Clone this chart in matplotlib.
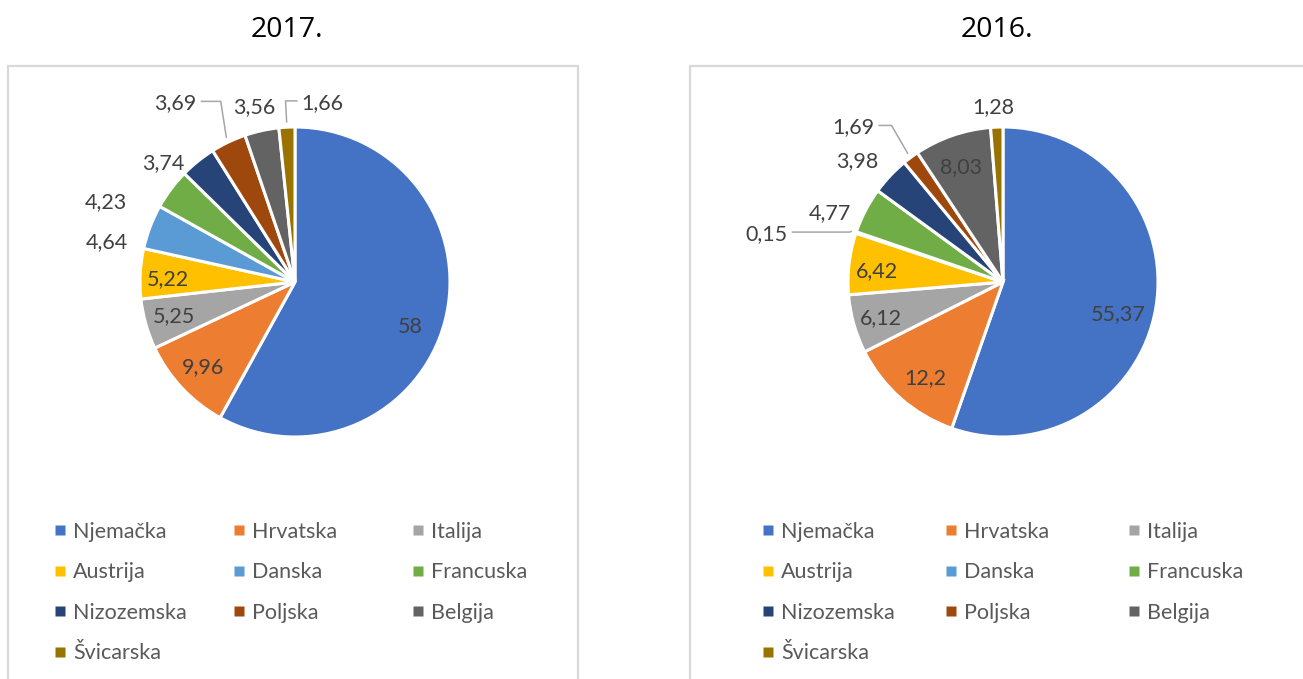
import numpy as np
import matplotlib
matplotlib.use('Agg')
import matplotlib.pyplot as plt
from matplotlib.patches import Rectangle

# --------------------------------------------------
# data
# --------------------------------------------------
countries = ['Njemačka', 'Hrvatska', 'Italija', 'Austrija', 'Danska',
             'Francuska', 'Nizozemska', 'Poljska', 'Belgija', 'Švicarska']
colors = ['#4472C4', '#ED7D31', '#A5A5A5', '#FFC000', '#5B9BD5',
          '#70AD47', '#264478', '#9E480E', '#636363', '#997300']

years = ['2017.', '2016.']
values_2017 = [58, 9.96, 5.25, 5.22, 4.64, 4.23, 3.74, 3.69, 3.56, 1.66]
values_2016 = [55.37, 12.2, 6.12, 6.42, 0.15, 4.77, 3.98, 1.69, 8.03, 1.28]

# label placement style: radius factor and angle nudge (deg) along each wedge
lab_r_2017 = [0.79, 0.80, 0.81, 0.82, 1.24, 1.33, 1.15, None, 1.17, None]
lab_d_2017 = [-6, -1, -1, 1, 8.4, 13.5, 8.7, 0, 0.6, 0]
lead_2017 = {7: (1.26, -3.1, -20), 9: (1.17, 0.0, 12)}

lab_r_2016 = [0.77, 0.79, 0.82, 0.82, None, 1.21, 1.23, None, 0.80, 1.14]
lab_d_2016 = [-5, 1.9, 0, 1, 0, 5.2, 3.1, 0, 0.7, 0.8]
lead_2016 = {4: (1.04, 0.6, -58), 7: (1.24, -1.1, -13)}

W, H = 1303, 679
TXT = '#404040'
LEG = '#595959'
LAB_PT = 15.5
LAB_PX = LAB_PT * 100 / 72


def fmt(v):
    return ('%g' % v).replace('.', ',')


def draw_panel(ax, vals, lab_r, lab_d, leads, cx, cy, R, title_x, leg_x0, leg_dx):
    wedges, _ = ax.pie(vals, colors=colors, startangle=90, counterclock=False,
                       center=(cx, cy), radius=R, frame=True,
                       wedgeprops=dict(edgecolor='white', linewidth=2.2))
    for i, w in enumerate(wedges):
        mid = (w.theta1 + w.theta2) / 2
        txt = fmt(vals[i])
        if i in leads:
            re, de, hlen = leads[i]
            a0 = np.radians(mid)
            a1 = np.radians(mid + de)
            p0 = (cx + 1.03 * R * np.cos(a0), cy + 1.03 * R * np.sin(a0))
            p1 = (cx + re * R * np.cos(a1), cy + re * R * np.sin(a1))
            p2 = (p1[0] + hlen, p1[1])
            ax.plot([p0[0], p1[0], p2[0]], [p0[1], p1[1], p2[1]],
                    color='#a6a6a6', lw=1.1, solid_capstyle='butt')
            side = 1 if hlen > 0 else -1
            ax.text(p2[0] + side * 4, p2[1] - 0.36 * LAB_PX, txt,
                    ha='left' if side > 0 else 'right', va='baseline',
                    fontsize=LAB_PT, color=TXT, family='Lato')
        else:
            a = np.radians(mid + lab_d[i])
            x = cx + lab_r[i] * R * np.cos(a)
            y = cy + lab_r[i] * R * np.sin(a)
            ax.text(x, y - 0.36 * LAB_PX, txt, ha='center', va='baseline',
                    fontsize=LAB_PT, color=TXT, family='Lato')

    # legend, row-major like Excel
    for i, name in enumerate(countries):
        row, col = divmod(i, 3)
        mx = leg_x0 + col * leg_dx
        my = H - (530 + row * 40.5)
        ax.plot([mx], [my], marker='s', ms=7, color=colors[i], mec='none')
        ax.text(mx + 13, my - 0.36 * LAB_PX, name, ha='left', va='baseline',
                fontsize=LAB_PT, color=LEG, family='Lato')


def main():
    fig = plt.figure(figsize=(W / 100, H / 100), dpi=100)
    ax = fig.add_axes([0, 0, 1, 1])

    # chart frames
    ax.add_patch(Rectangle((8, -10), 570, H - 66 + 10, fill=False,
                           edgecolor='#d9d9d9', lw=1.6))
    ax.add_patch(Rectangle((690, -10), 700, H - 66 + 10, fill=False,
                           edgecolor='#d9d9d9', lw=1.6))

    draw_panel(ax, values_2017, lab_r_2017, lab_d_2017, lead_2017,
               295, H - 282, 155, 287, 60, 179)
    draw_panel(ax, values_2016, lab_r_2016, lab_d_2016, lead_2016,
               1003, H - 282, 155, 997, 768, 183)

    for t, x in zip(years, [287, 997]):
        ax.text(x, H - 37, t, ha='center', va='baseline', fontsize=20.5,
                color='black', family='Open Sans')

    ax.set_xlim(0, W)
    ax.set_ylim(0, H)
    ax.set_aspect('equal')
    ax.axis('off')
    fig.savefig('out.png', dpi=100)


if __name__ == '__main__':
    main()
